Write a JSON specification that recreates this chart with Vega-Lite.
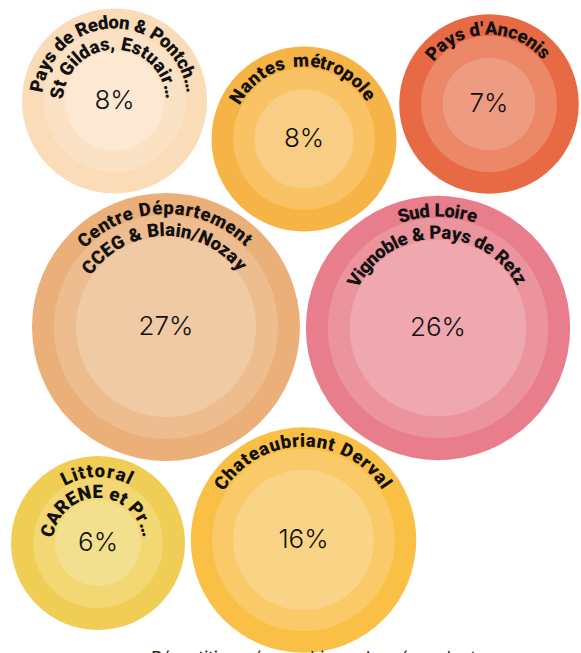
{
  "$schema": "https://vega.github.io/schema/vega-lite/v6.json",
  "width": 581,
  "height": 653,
  "padding": 0,
  "autosize": {"type": "none"},
  "background": "white",
  "config": {"view": {"stroke": null}},
  "datasets": {
    "bubbles": [
      {"k": "redon", "nom": "Pays de Redon & Pontch… / St Gildas, Estuair…", "cx": 114.5, "cy": 101, "share": 0.08},
      {"k": "nantes", "nom": "Nantes métropole", "cx": 304, "cy": 139, "share": 0.08},
      {"k": "ancenis", "nom": "Pays d'Ancenis", "cx": 489, "cy": 104, "share": 0.07},
      {"k": "centre", "nom": "Centre Département / CCEG & Blain/Nozay", "cx": 166, "cy": 327, "share": 0.27},
      {"k": "sud", "nom": "Sud Loire / Vignoble & Pays de Retz", "cx": 438, "cy": 328, "share": 0.26},
      {"k": "littoral", "nom": "Littoral / CARENE et Pr…", "cx": 98, "cy": 543, "share": 0.06},
      {"k": "chateau", "nom": "Chateaubriant Derval", "cx": 303.5, "cy": 540, "share": 0.164}
    ],
    "labels": [
      {"k":"redon","ln":1,"ch":"P","a":-79},{"k":"redon","ln":1,"ch":"a","a":-70.8},{"k":"redon","ln":1,"ch":"y","a":-63},{"k":"redon","ln":1,"ch":"s","a":-55.6},{"k":"redon","ln":1,"ch":"d","a":-44.4},{"k":"redon","ln":1,"ch":"e","a":-36.6},{"k":"redon","ln":1,"ch":"R","a":-24.5},{"k":"redon","ln":1,"ch":"e","a":-16.2},{"k":"redon","ln":1,"ch":"d","a":-8.4},{"k":"redon","ln":1,"ch":"o","a":-0.6},{"k":"redon","ln":1,"ch":"n","a":7.2},{"k":"redon","ln":1,"ch":"&","a":19.7},{"k":"redon","ln":1,"ch":"P","a":32.7},{"k":"redon","ln":1,"ch":"o","a":40.9},{"k":"redon","ln":1,"ch":"n","a":48.7},{"k":"redon","ln":1,"ch":"t","a":55.2},{"k":"redon","ln":1,"ch":"c","a":61.3},{"k":"redon","ln":1,"ch":"h","a":68.7},{"k":"redon","ln":1,"ch":"…","a":78},
      {"k":"redon","ln":2,"ch":"S","a":-82},{"k":"redon","ln":2,"ch":"t","a":-72.2},{"k":"redon","ln":2,"ch":"G","a":-55.9},{"k":"redon","ln":2,"ch":"i","a":-46.1},{"k":"redon","ln":2,"ch":"l","a":-40.6},{"k":"redon","ln":2,"ch":"d","a":-32.1},{"k":"redon","ln":2,"ch":"a","a":-20.7},{"k":"redon","ln":2,"ch":"s","a":-9.9},{"k":"redon","ln":2,"ch":",","a":-2},{"k":"redon","ln":2,"ch":"E","a":12.1},{"k":"redon","ln":2,"ch":"s","a":23.1},{"k":"redon","ln":2,"ch":"t","a":31.9},{"k":"redon","ln":2,"ch":"u","a":41.3},{"k":"redon","ln":2,"ch":"a","a":52.7},{"k":"redon","ln":2,"ch":"i","a":61.1},{"k":"redon","ln":2,"ch":"r","a":68},{"k":"redon","ln":2,"ch":"…","a":80},
      {"k":"nantes","ln":1,"ch":"N","a":-57.5},{"k":"nantes","ln":1,"ch":"a","a":-48.1},{"k":"nantes","ln":1,"ch":"n","a":-39.8},{"k":"nantes","ln":1,"ch":"t","a":-32.9},{"k":"nantes","ln":1,"ch":"e","a":-26},{"k":"nantes","ln":1,"ch":"s","a":-18.1},{"k":"nantes","ln":1,"ch":"m","a":-2.3},{"k":"nantes","ln":1,"ch":"é","a":8.6},{"k":"nantes","ln":1,"ch":"t","a":14.2},{"k":"nantes","ln":1,"ch":"r","a":19.6},{"k":"nantes","ln":1,"ch":"o","a":26.6},{"k":"nantes","ln":1,"ch":"p","a":34.8},{"k":"nantes","ln":1,"ch":"o","a":43.1},{"k":"nantes","ln":1,"ch":"l","a":49.3},{"k":"nantes","ln":1,"ch":"e","a":55.5},
      {"k":"ancenis","ln":1,"ch":"P","a":-48},{"k":"ancenis","ln":1,"ch":"a","a":-39.2},{"k":"ancenis","ln":1,"ch":"y","a":-30.9},{"k":"ancenis","ln":1,"ch":"s","a":-23},{"k":"ancenis","ln":1,"ch":"d","a":-11.1},{"k":"ancenis","ln":1,"ch":"'","a":-5.2},{"k":"ancenis","ln":1,"ch":"A","a":1.6},{"k":"ancenis","ln":1,"ch":"n","a":10.8},{"k":"ancenis","ln":1,"ch":"c","a":18.8},{"k":"ancenis","ln":1,"ch":"e","a":26.7},{"k":"ancenis","ln":1,"ch":"n","a":35.1},{"k":"ancenis","ln":1,"ch":"i","a":41.3},{"k":"ancenis","ln":1,"ch":"s","a":47},
      {"k":"centre","ln":1,"ch":"C","a":-43},{"k":"centre","ln":1,"ch":"e","a":-37.1},{"k":"centre","ln":1,"ch":"n","a":-31.7},{"k":"centre","ln":1,"ch":"t","a":-27.3},{"k":"centre","ln":1,"ch":"r","a":-23.5},{"k":"centre","ln":1,"ch":"e","a":-18.9},{"k":"centre","ln":1,"ch":"D","a":-10.2},{"k":"centre","ln":1,"ch":"é","a":-4.15},{"k":"centre","ln":1,"ch":"p","a":1.3},{"k":"centre","ln":1,"ch":"a","a":6.7},{"k":"centre","ln":1,"ch":"r","a":11.3},{"k":"centre","ln":1,"ch":"t","a":15},{"k":"centre","ln":1,"ch":"e","a":19.5},{"k":"centre","ln":1,"ch":"m","a":26.3},{"k":"centre","ln":1,"ch":"e","a":33.1},{"k":"centre","ln":1,"ch":"n","a":38.5},{"k":"centre","ln":1,"ch":"t","a":43},
      {"k":"centre","ln":2,"ch":"C","a":-52},{"k":"centre","ln":2,"ch":"C","a":-44.4},{"k":"centre","ln":2,"ch":"E","a":-37.2},{"k":"centre","ln":2,"ch":"G","a":-29.8},{"k":"centre","ln":2,"ch":"&","a":-18.6},{"k":"centre","ln":2,"ch":"B","a":-7.7},{"k":"centre","ln":2,"ch":"l","a":-2.4},{"k":"centre","ln":2,"ch":"a","a":2.4},{"k":"centre","ln":2,"ch":"i","a":7.2},{"k":"centre","ln":2,"ch":"n","a":12.1},{"k":"centre","ln":2,"ch":"/","a":17.6},{"k":"centre","ln":2,"ch":"N","a":23.9},{"k":"centre","ln":2,"ch":"o","a":31.2},{"k":"centre","ln":2,"ch":"z","a":37.3},{"k":"centre","ln":2,"ch":"a","a":43.5},{"k":"centre","ln":2,"ch":"y","a":50},
      {"k":"sud","ln":1,"ch":"S","a":-17},{"k":"sud","ln":1,"ch":"u","a":-11.7},{"k":"sud","ln":1,"ch":"d","a":-6.6},{"k":"sud","ln":1,"ch":"L","a":0.8},{"k":"sud","ln":1,"ch":"o","a":5.8},{"k":"sud","ln":1,"ch":"i","a":9.5},{"k":"sud","ln":1,"ch":"r","a":12.6},{"k":"sud","ln":1,"ch":"e","a":17},
      {"k":"sud","ln":2,"ch":"V","a":-60},{"k":"sud","ln":2,"ch":"i","a":-54.8},{"k":"sud","ln":2,"ch":"g","a":-50.2},{"k":"sud","ln":2,"ch":"n","a":-43.9},{"k":"sud","ln":2,"ch":"o","a":-37.6},{"k":"sud","ln":2,"ch":"b","a":-31.3},{"k":"sud","ln":2,"ch":"l","a":-26.7},{"k":"sud","ln":2,"ch":"e","a":-22},{"k":"sud","ln":2,"ch":"&","a":-12},{"k":"sud","ln":2,"ch":"P","a":-1.6},{"k":"sud","ln":2,"ch":"a","a":5},{"k":"sud","ln":2,"ch":"y","a":11.3},{"k":"sud","ln":2,"ch":"s","a":17.2},{"k":"sud","ln":2,"ch":"d","a":26.2},{"k":"sud","ln":2,"ch":"e","a":32.5},{"k":"sud","ln":2,"ch":"R","a":42.2},{"k":"sud","ln":2,"ch":"e","a":48.9},{"k":"sud","ln":2,"ch":"t","a":54.1},{"k":"sud","ln":2,"ch":"z","a":59},
      {"k":"littoral","ln":1,"ch":"L","a":-26},{"k":"littoral","ln":1,"ch":"i","a":-18.9},{"k":"littoral","ln":1,"ch":"t","a":-13.2},{"k":"littoral","ln":1,"ch":"t","a":-6.7},{"k":"littoral","ln":1,"ch":"o","a":1.5},{"k":"littoral","ln":1,"ch":"r","a":10.1},{"k":"littoral","ln":1,"ch":"a","a":18.6},{"k":"littoral","ln":1,"ch":"l","a":26},
      {"k":"littoral","ln":2,"ch":"C","a":-76},{"k":"littoral","ln":2,"ch":"A","a":-60.3},{"k":"littoral","ln":2,"ch":"R","a":-44.9},{"k":"littoral","ln":2,"ch":"E","a":-30.5},{"k":"littoral","ln":2,"ch":"N","a":-15.5},{"k":"littoral","ln":2,"ch":"E","a":-0.5},{"k":"littoral","ln":2,"ch":"e","a":19.2},{"k":"littoral","ln":2,"ch":"t","a":30.1},{"k":"littoral","ln":2,"ch":"P","a":48.1},{"k":"littoral","ln":2,"ch":"r","a":60.1},{"k":"littoral","ln":2,"ch":"…","a":74},
      {"k":"chateau","ln":1,"ch":"C","a":-55},{"k":"chateau","ln":1,"ch":"h","a":-47.8},{"k":"chateau","ln":1,"ch":"a","a":-41.2},{"k":"chateau","ln":1,"ch":"t","a":-35.7},{"k":"chateau","ln":1,"ch":"e","a":-30.2},{"k":"chateau","ln":1,"ch":"a","a":-23.6},{"k":"chateau","ln":1,"ch":"u","a":-17},{"k":"chateau","ln":1,"ch":"b","a":-10.3},{"k":"chateau","ln":1,"ch":"r","a":-4.6},{"k":"chateau","ln":1,"ch":"i","a":-0.6},{"k":"chateau","ln":1,"ch":"a","a":4.3},{"k":"chateau","ln":1,"ch":"n","a":10.9},{"k":"chateau","ln":1,"ch":"t","a":16.4},{"k":"chateau","ln":1,"ch":"D","a":25.9},{"k":"chateau","ln":1,"ch":"e","a":33.3},{"k":"chateau","ln":1,"ch":"r","a":39},{"k":"chateau","ln":1,"ch":"v","a":44.6},{"k":"chateau","ln":1,"ch":"a","a":51.1},{"k":"chateau","ln":1,"ch":"l","a":56}
    ],
    "caption": [
      {"t": "Répartition géographique des répondants", "cx": 318, "cy": 664}
    ]
  },
  "layer": [
    {
      "data": {"name": "bubbles"},
      "mark": {"type": "point", "shape": "circle", "filled": true, "opacity": 1, "strokeWidth": 0},
      "encoding": {
        "x": {"field": "cx", "type": "quantitative", "scale": {"domain": [0, 581], "nice": false, "zero": false}, "axis": null},
        "y": {"field": "cy", "type": "quantitative", "scale": {"domain": [653, 0], "nice": false, "zero": false}, "axis": null},
        "size": {"field": "share", "type": "quantitative", "scale": {"type": "linear", "zero": false, "domain": [0.06, 0.27], "range": [30276, 71824]}, "legend": null},
        "color": {"field": "k", "type": "nominal", "scale": {"domain": ["redon","nantes","ancenis","centre","sud","littoral","chateau"], "range": ["#FBDCB9","#F7B446","#E86A44","#EBB079","#E87E8C","#F0CE56","#FAC046"]}, "legend": null}
      }
    },
    {
      "data": {"name": "bubbles"},
      "mark": {"type": "point", "shape": "circle", "filled": true, "opacity": 1, "strokeWidth": 0},
      "encoding": {
        "x": {"field": "cx", "type": "quantitative", "scale": {"domain": [0, 581], "nice": false, "zero": false}, "axis": null},
        "y": {"field": "cy", "type": "quantitative", "scale": {"domain": [653, 0], "nice": false, "zero": false}, "axis": null},
        "size": {"field": "share", "type": "quantitative", "scale": {"type": "linear", "zero": false, "domain": [0.06, 0.27], "range": [16900, 50176]}, "legend": null},
        "color": {"field": "k", "type": "nominal", "scale": {"domain": ["redon","nantes","ancenis","centre","sud","littoral","chateau"], "range": ["#FCE2C5","#F8C265","#EC8768","#EEBD8F","#EC949E","#F2D772","#FACA68"]}, "legend": null}
      }
    },
    {
      "data": {"name": "bubbles"},
      "mark": {"type": "point", "shape": "circle", "filled": true, "opacity": 1, "strokeWidth": 0},
      "encoding": {
        "x": {"field": "cx", "type": "quantitative", "scale": {"domain": [0, 581], "nice": false, "zero": false}, "axis": null},
        "y": {"field": "cy", "type": "quantitative", "scale": {"domain": [653, 0], "nice": false, "zero": false}, "axis": null},
        "size": {"field": "share", "type": "quantitative", "scale": {"type": "linear", "zero": false, "domain": [0.06, 0.27], "range": [7396, 32400]}, "legend": null},
        "color": {"field": "k", "type": "nominal", "scale": {"domain": ["redon","nantes","ancenis","centre","sud","littoral","chateau"], "range": ["#FDE8D3","#F9CD83","#EE9C81","#F0CAA5","#EFA8B0","#F3E08F","#FAD486"]}, "legend": null}
      }
    },
    {
      "data": {"name": "bubbles"},
      "mark": {"type": "text", "font": "Inter", "fontSize": 26, "fontWeight": 300, "color": "#111111", "align": "center", "baseline": "middle"},
      "encoding": {
        "x": {"field": "cx", "type": "quantitative", "scale": {"domain": [0, 581], "nice": false, "zero": false}, "axis": null},
        "y": {"field": "cy", "type": "quantitative", "scale": {"domain": [653, 0], "nice": false, "zero": false}, "axis": null},
        "text": {"field": "share", "type": "quantitative", "format": ".0%"}
      }
    },
    {
      "data": {"name": "labels"},
      "transform": [
        {"filter": "datum.ln === 1"},
        {"lookup": "k", "from": {"data": {"name": "bubbles"}, "key": "k", "fields": ["cx", "cy", "share"]}}
      ],
      "mark": {"type": "text", "font": "Roboto", "fontSize": 18.5, "fontWeight": 900, "color": "#111111", "align": "center", "baseline": "middle"},
      "encoding": {
        "x": {"field": "cx", "type": "quantitative", "scale": {"domain": [0, 581], "nice": false, "zero": false}, "axis": null},
        "y": {"field": "cy", "type": "quantitative", "scale": {"domain": [653, 0], "nice": false, "zero": false}, "axis": null},
        "theta": {"field": "a", "type": "quantitative", "scale": {"type": "linear", "domain": [0, 360], "range": [0, 6.283185307179586], "zero": false, "nice": false}},
        "radius": {"field": "share", "type": "quantitative", "scale": {"type": "sqrt", "zero": false, "nice": false, "domain": [0.06, 0.27], "range": [72, 119]}},
        "angle": {"field": "a", "type": "quantitative", "scale": null},
        "text": {"field": "ch", "type": "nominal"}
      }
    },
    {
      "data": {"name": "labels"},
      "transform": [
        {"filter": "datum.ln === 2"},
        {"lookup": "k", "from": {"data": {"name": "bubbles"}, "key": "k", "fields": ["cx", "cy", "share"]}}
      ],
      "mark": {"type": "text", "font": "Roboto", "fontSize": 18.5, "fontWeight": 900, "color": "#111111", "align": "center", "baseline": "middle"},
      "encoding": {
        "x": {"field": "cx", "type": "quantitative", "scale": {"domain": [0, 581], "nice": false, "zero": false}, "axis": null},
        "y": {"field": "cy", "type": "quantitative", "scale": {"domain": [653, 0], "nice": false, "zero": false}, "axis": null},
        "theta": {"field": "a", "type": "quantitative", "scale": {"type": "linear", "domain": [0, 360], "range": [0, 6.283185307179586], "zero": false, "nice": false}},
        "radius": {"field": "share", "type": "quantitative", "scale": {"type": "sqrt", "zero": false, "nice": false, "domain": [0.06, 0.27], "range": [51, 97]}},
        "angle": {"field": "a", "type": "quantitative", "scale": null},
        "text": {"field": "ch", "type": "nominal"}
      }
    },
    {
      "data": {"name": "caption"},
      "mark": {"type": "text", "font": "Inter", "fontSize": 17, "fontWeight": 400, "color": "#222222", "align": "center", "baseline": "alphabetic"},
      "encoding": {
        "x": {"field": "cx", "type": "quantitative", "scale": {"domain": [0, 581], "nice": false, "zero": false}, "axis": null},
        "y": {"field": "cy", "type": "quantitative", "scale": {"domain": [653, 0], "nice": false, "zero": false}, "axis": null},
        "text": {"field": "t", "type": "nominal"}
      }
    }
  ],
  "resolve": {"scale": {"size": "independent", "color": "independent", "radius": "independent", "theta": "independent"}}
}
